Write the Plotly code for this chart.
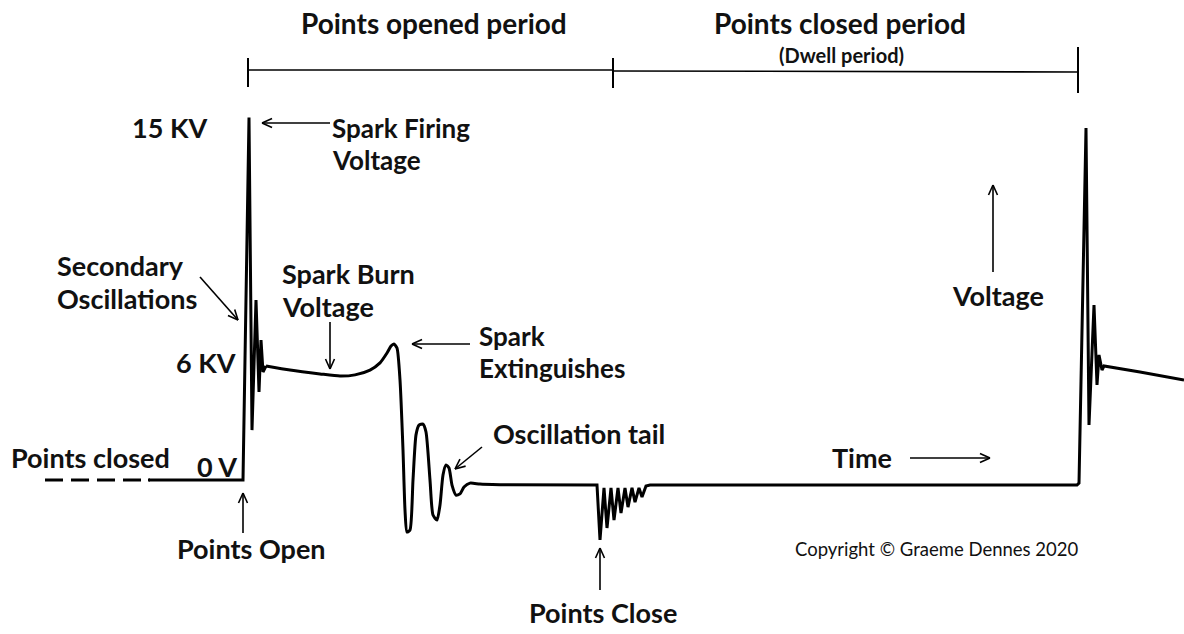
import math
import plotly.graph_objects as go

W, H = 1184, 634

# ---- waveform data (time in arbitrary units, voltage in kV) ----
# dashed lead-in while points are closed
time_dash = [45, 150]
volt_dash = [0.0, 0.0]
# points open: firing spike and secondary oscillations
time_fire = [148, 243, 249, 252, 256, 259, 261, 263, 266]
volt_fire = [0.0, 0.0, 15.1, 2.08, 7.5, 3.67, 5.83, 4.5, 4.75]
# spark burn line, extinction and oscillation tail
time_burn = [266, 290, 320, 340, 355, 370, 380, 387, 391, 394, 397, 400, 403, 405, 407, 410,
             413, 416, 419, 423, 426, 430, 433, 437, 440, 443, 446, 449, 452, 456, 460, 464,
             470, 480, 500]
volt_burn = [4.75, 4.58, 4.42, 4.33, 4.38, 4.58, 4.88, 5.29, 5.58, 5.67, 5.5, 4.17, 1.25, -1.25, -2.17, -2.08,
             0.0, 1.88, 2.29, 2.33, 2.0, 0.0, -1.46, -1.67, -1.04, 0.21, 0.63, 0.5, -0.21, -0.63, -0.58, -0.29,
             -0.13, -0.17, -0.2]
# points close ringing, dwell, and next firing
time_dwell = [500, 597, 600, 604, 607, 611, 614, 618, 621, 625, 628, 632, 635, 639, 642, 646, 650,
              1077, 1079, 1086, 1089, 1094, 1097, 1099, 1102, 1104, 1140, 1184]
volt_dwell = [-0.2, -0.21, -2.5, -0.33, -2.0, -0.33, -1.67, -0.33, -1.38, -0.33, -1.13, -0.33, -0.92, -0.33,
              -0.71, -0.25, -0.21, -0.21, -0.13, 14.67, 2.29, 7.29, 3.96, 5.21, 4.58, 4.75, 4.5, 4.17]

PX_PER_KV = 24.0
ZERO_PY = 480.0
y_lo = (ZERO_PY - H) / PX_PER_KV
y_hi = ZERO_PY / PX_PER_KV

fig = go.Figure()
fig.add_trace(go.Scatter(x=time_dash, y=volt_dash, mode="lines",
                         line=dict(color="black", width=3, dash="18px,8px"),
                         hoverinfo="skip", showlegend=False))
fig.add_trace(go.Scatter(x=time_fire, y=volt_fire, mode="lines",
                         line=dict(color="black", width=3),
                         hoverinfo="skip", showlegend=False))
fig.add_trace(go.Scatter(x=time_burn, y=volt_burn, mode="lines",
                         line=dict(color="black", width=3, shape="spline", smoothing=0.6),
                         hoverinfo="skip", showlegend=False))
fig.add_trace(go.Scatter(x=time_dwell, y=volt_dwell, mode="lines",
                         line=dict(color="black", width=3),
                         hoverinfo="skip", showlegend=False))

FONT = "Lato"
FS = 27


def px(x):
    return x / W


def py(y):
    return 1 - y / H


annotations = []


def txt(s, x, y, size=FS, anchor="left", bold=True, color="#111"):
    annotations.append(dict(text=f"<b>{s}</b>" if bold else s, x=px(x), y=py(y),
                            xref="paper", yref="paper", xanchor=anchor, yanchor="middle",
                            showarrow=False, font=dict(family=FONT, size=size, color=color)))


shapes = []


def seg(x0, y0, x1, y1, w=1.6):
    shapes.append(dict(type="line", xref="paper", yref="paper",
                       x0=px(x0), y0=py(y0), x1=px(x1), y1=py(y1),
                       line=dict(color="black", width=w)))


def arrow(x0, y0, x1, y1, w=1.6, head=11):
    seg(x0, y0, x1, y1, w)
    ang = math.atan2(y0 - y1, x0 - x1)
    for d in (0.42, -0.42):
        a = ang + d
        seg(x1, y1, x1 + head * math.cos(a), y1 + head * math.sin(a), w)


# period brackets
seg(248, 70, 613, 70)
seg(248, 58, 248, 87, 2)
seg(613, 58, 613, 88, 2)
seg(613, 71, 1078, 72)
seg(1078, 47, 1078, 93, 2)

txt("Points opened period", 434, 23, 28, "center")
txt("Points closed period", 840, 23, 28, "center")
txt("(Dwell period)", 841, 55, 20, "center")

txt("15 KV", 209, 128, FS, "right")
txt("Spark Firing", 330, 128, 26)
txt("Voltage", 330, 160, 26)
arrow(330, 123, 262, 123)

txt("Secondary", 55, 265)
txt("Oscillations", 55, 298)
arrow(200, 277, 238, 320)

txt("Spark Burn", 280, 273)
txt("Voltage", 280, 306)
arrow(330, 322, 330, 369)

txt("6 KV", 238, 362, FS, "right")

txt("Spark", 477, 336, 26)
txt("Extinguishes", 477, 368, 26)
arrow(470, 344, 412, 344)

txt("Oscillation tail", 491, 433)
arrow(482, 447, 455, 469)

txt("Points closed", 9, 458)
txt("0 V", 195, 466)

arrow(243, 533, 243, 493)
txt("Points Open", 175, 548)

arrow(600, 590, 600, 548)
txt("Points Close", 527, 612)

txt("Copyright © Graeme Dennes 2020", 793, 549, 18.5, bold=False)

txt("Time", 830, 457)
arrow(910, 458, 990, 458)

txt("Voltage", 950, 295)
arrow(993, 272, 993, 185)

fig.update_layout(
    width=W, height=H,
    margin=dict(l=0, r=0, t=0, b=0),
    paper_bgcolor="white", plot_bgcolor="white",
    xaxis=dict(range=[0, W], visible=False, fixedrange=True),
    yaxis=dict(range=[y_lo, y_hi], visible=False, fixedrange=True),
    annotations=annotations, shapes=shapes,
    showlegend=False,
)

fig.write_html("out.html", config={"displayModeBar": False},
               post_script="document.body.style.margin='0';document.body.style.overflow='hidden';")
